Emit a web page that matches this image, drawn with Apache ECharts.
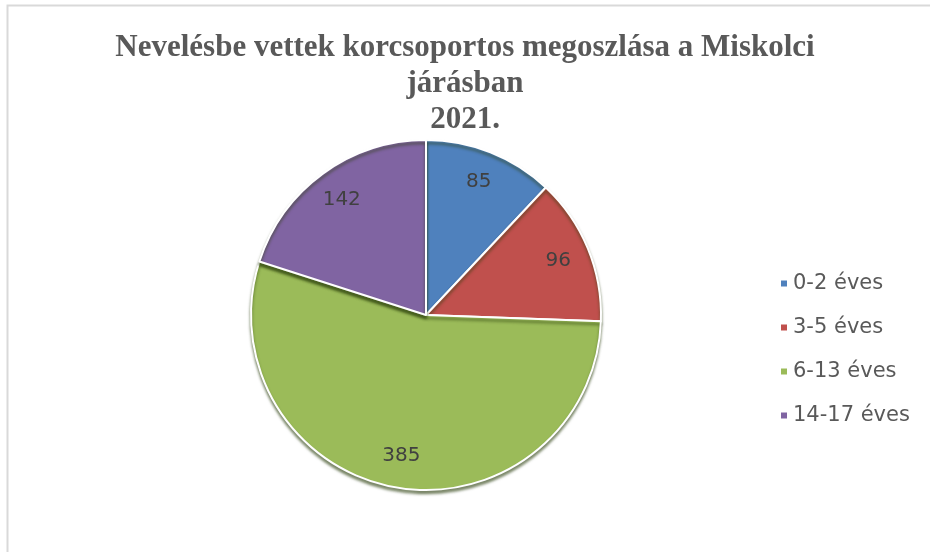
<!DOCTYPE html>
<html>
<head>
<meta charset="utf-8">
<script src="https://cdn.jsdelivr.net/npm/echarts@6/dist/echarts.min.js"></script>
<style>
  html, body { margin: 0; padding: 0; background: #fff; }
  #chart { width: 930px; height: 552px; }
</style>
</head>
<body>
<div id="chart"></div>
<script>
// korcsoportok és értékek
const categories = ['0-2 éves', '3-5 éves', '6-13 éves', '14-17 éves'];
const values = [85, 96, 385, 142];
const colors = ['#4f81bd', '#c0504d', '#9bbb59', '#8064a2'];

const pieData = categories.map((name, i) => ({ name: name, value: values[i] }));

const myChart = echarts.init(document.getElementById('chart'));
const option = {
    animation: false,
    color: colors,
    title: {
        text: 'Nevelésbe vettek korcsoportos megoszlása a Miskolci\njárásban\n2021.',
        left: 'center',
        top: 25,
        textStyle: {
            fontFamily: 'Liberation Serif',
            fontWeight: 'bold',
            fontSize: 31,
            lineHeight: 36,
            color: '#595959'
        }
    },
    legend: {
        orient: 'vertical',
        left: 774,
        top: 268,
        icon: 'rect',
        itemWidth: 8,
        itemHeight: 8,
        itemGap: 23,
        data: categories,
        textStyle: {
            fontFamily: 'DejaVu Sans',
            fontSize: 21,
            color: '#595959'
        }
    },
    graphic: [{
        type: 'rect',
        shape: { x: 7.5, y: 5.5, width: 1000, height: 1000 },
        style: { fill: 'none', stroke: '#d9d9d9', lineWidth: 2 },
        silent: true
    }],
    series: [{
        type: 'pie',
        center: [426, 315],
        radius: [0, 175],
        startAngle: 90,
        clockwise: true,
        data: pieData,
        label: { show: false },
        labelLine: { show: false },
        itemStyle: {
            borderColor: '#fff',
            borderWidth: 2,
            shadowColor: 'rgba(40,60,10,0.6)',
            shadowBlur: 3,
            shadowOffsetY: 3
        }
    }, {
        // csak a címkék, a szeletek sugarának kb. 80%-ánál
        type: 'pie',
        center: [426, 315],
        radius: [0, 280],
        startAngle: 90,
        silent: true,
        data: pieData,
        itemStyle: { color: 'transparent' },
        label: {
            show: true,
            position: 'inside',
            formatter: '{c}',
            fontFamily: 'DejaVu Sans',
            fontSize: 20,
            color: '#404040'
        },
        labelLine: { show: false }
    }]
};
myChart.setOption(option);
</script>
</body>
</html>
